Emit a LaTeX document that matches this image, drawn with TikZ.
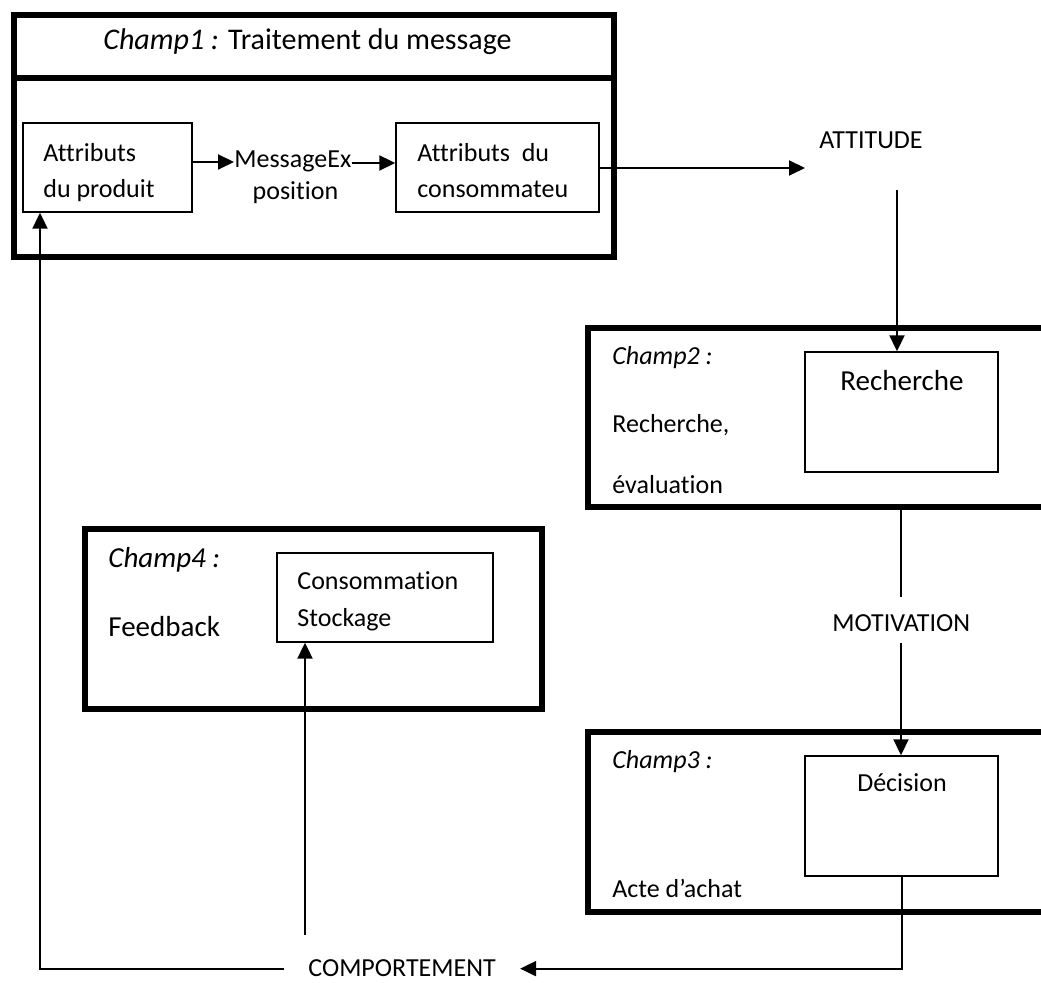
\documentclass[tikz,border=0pt]{standalone}
\usepackage{fontspec}
\setmainfont{Carlito}[Ligatures = CommonOff]
\usetikzlibrary{arrows.meta}

\begin{document}
\begin{tikzpicture}[x = 0.5pt, y = -0.5pt,
    champ/.style = { draw, line width = 2.8pt, inner sep = 0pt },
    boite/.style = { draw, line width = 0.7pt, inner sep = 0pt },
    txt/.style = { inner sep = 0pt, anchor = base west, font = \fontsize{13pt}{15pt}\selectfont },
    grand/.style = { font = \fontsize{14.5pt}{17pt}\selectfont },
    fleche/.style = { line width = 1pt, -{Triangle[length = 8pt, width = 7.5pt]} },
    trait/.style = { line width = 1pt }]
    \useasboundingbox (0,0) rectangle (1041,983);

    % champ 1
    \node [champ, minimum width = 300pt, minimum height = 121pt] (c1) at (314,136) {};
    \draw [line width = 2.8pt] (c1.west |- 0,78) -- (c1.east |- 0,78);
    \node [txt, anchor = base, font = \fontsize{15pt}{18pt}\selectfont] (titre) at (307.5,50) {\textit{Champ1 :} Traitement du message};
    \node [boite, minimum width = 84.5pt, minimum height = 44.5pt] (prod) at (107.5,167.5) {};
    \node [txt] (prod1) at (43,162) {Attributs};
    \node [txt] (prod2) at (43,198) {du produit};
    \node [txt] (msg) at (234,168) {MessageEx};
    \node [txt, anchor = base] (msgb) at (295.5,200) {position};
    \node [boite, minimum width = 101.5pt, minimum height = 44.5pt] (cons) at (497.5,167.5) {};
    \node [txt] (cons1) at (417,162) {Attributs~ du};
    \node [txt] (cons2) at (417,198) {consommateu};
    \node [txt] (att) at (819,149) {ATTITUDE};

    % champ 2
    \node [champ, minimum width = 256pt, minimum height = 89.5pt] (c2) at (844,417.5) {};
    \node [txt] (c2a) at (612,365) {\textit{Champ2 :}};
    \node [txt] (c2b) at (612,433) {Recherche,};
    \node [txt] (c2c) at (612,494) {évaluation};
    \node [boite, minimum width = 96.5pt, minimum height = 60pt] (rech) at (901.5,412) {};
    \node [txt, grand, anchor = base] (rech1) at (902,391) {Recherche};
    \node [txt] (motiv) at (832,632) {MOTIVATION};

    % champ 3
    \node [champ, minimum width = 256pt, minimum height = 90pt] (c3) at (844,822) {};
    \node [txt] (c3a) at (612,769) {\textit{Champ3 :}};
    \node [txt] (c3b) at (612,898) {Acte d’achat};
    \node [boite, minimum width = 96.5pt, minimum height = 60pt] (deci) at (901.5,816) {};
    \node [txt, anchor = base] (deci1) at (902,792) {Décision};

    % champ 4
    \node [champ, minimum width = 228.5pt, minimum height = 90pt] (c4) at (313.5,619) {};
    \node [txt, grand] (c4a) at (108,568) {\textit{Champ4 :}};
    \node [txt, grand] (c4b) at (108,637) {Feedback};
    \node [boite, minimum width = 108pt, minimum height = 44.5pt] (stock) at (385,597.5) {};
    \node [txt] (stock1) at (297,590) {Consommation};
    \node [txt] (stock2) at (297,627) {Stockage};

    \node [txt, inner xsep = 12pt] (comp) at (284,977) {COMPORTEMENT};

    \coordinate (attin) at (805,168);
    \coordinate (attout) at (897,190);
    \coordinate (motiv1) at (901,597);
    \coordinate (motiv2) at (901,643);
    \coordinate (coin) at (40,966);
    \coordinate (feed) at (305,935);

    % liaisons
    \draw [fleche] (prod.east |- 0,162) -- (msg.west |- 0,162);
    \draw [fleche] (msg.east |- 0,163) -- (cons.west |- 0,163);
    \draw [fleche] (cons.east |- attin) -- (attin);
    \draw [fleche] (attout) -- (attout |- rech.north);
    \draw [trait] (motiv1 |- c2.south) -- (motiv1);
    \draw [fleche] (motiv2) -- (motiv2 |- deci.north);
    \draw [fleche] (deci.south) -- (deci.south |- comp.east) -- (comp.east);
    \draw [fleche] (comp.west) -- (comp.west -| coin) -- (coin |- prod.south);
    \draw [fleche] (feed) -- (feed |- stock.south);
\end{tikzpicture}
\end{document}
